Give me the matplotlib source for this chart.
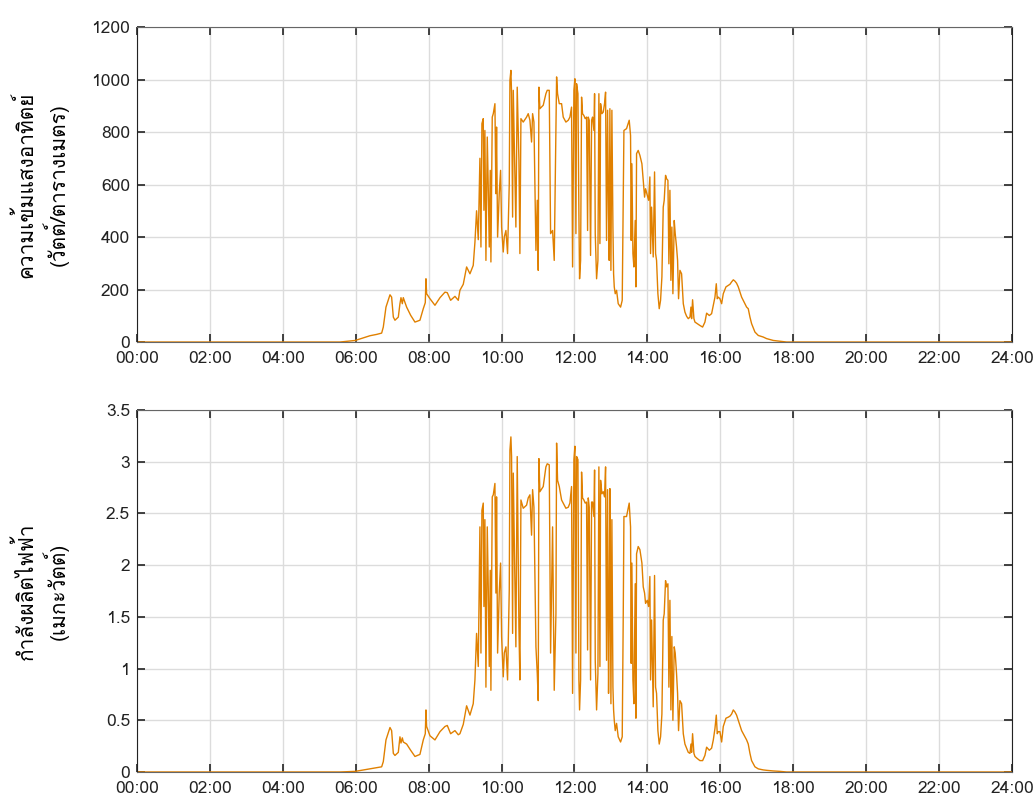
import matplotlib
matplotlib.use("Agg")
import matplotlib.pyplot as plt
from matplotlib import font_manager, ft2font

# time of day in minutes
minutes = [0, 334.1, 359.3, 383.5, 394.4, 402.7, 405.4, 409.8, 416.4, 419.1, 421.9, 424.6, 430.1, 432.8,
           434.5, 436.7, 438.3, 443.8, 450.4, 457.5, 465.7, 471.2, 474.5, 475.6, 476.7, 482.2, 490.4,
           498.7, 506.9, 510.7, 516.2, 523.3, 528.8,
           531.5, 537.0, 542.5, 548.0, 553.4, 556.2, 558.9, 561.7, 564.4, 566.1, 567.7, 569.9, 571.0,
           572.6, 574.3, 576.5, 578.1, 579.8, 581.4, 582.5, 584.7, 586.4, 589.1, 590.7, 591.8, 593.5,
           596.2, 598.4, 600.1, 602.8, 604.5, 607.2, 609.9, 612.7, 613.8, 615.4, 616.5, 618.2, 619.3,
           622.0, 623.6, 625.8, 628.6, 630.2, 631.9, 635.7, 641.2, 643.9, 646.7, 649.4, 651.1, 653.3,
           656.6, 658.8, 660.4, 661.5, 663.1, 668.6, 673.0, 675.2, 678.5, 680.7, 684.0, 686.7, 689.5,
           690.6, 692.2, 695.0, 698.8, 701.5, 705.9, 709.8,
           712.5, 715.2, 716.9, 719.1, 720.7, 722.4, 723.5, 725.7, 727.3, 728.4, 730.1, 731.7, 733.3,
           735.5, 737.7, 739.9, 741.6, 742.7, 744.3, 746.5, 748.2, 749.8, 752.0, 753.1, 754.2, 756.4,
           758.6, 760.2, 761.9, 763.0, 765.2, 767.4, 769.5, 771.2, 772.8, 774.5, 776.1, 777.2, 778.3,
           780.0, 781.6, 783.3, 784.4, 785.5, 787.1, 789.3, 792.0, 795.9, 798.6, 800.3, 801.4, 805.7,
           810.1, 812.3, 813.4, 814.5, 816.2, 817.8, 820.0, 821.1, 822.2, 824.9, 827.7, 831.0, 833.2,
           835.4, 837.0, 839.8, 842.0, 844.1, 845.2, 846.9, 849.6, 851.8, 853.5, 855.1, 857.3, 859.5,
           861.7, 863.9, 866.1, 867.7, 869.9, 871.6, 873.8, 875.4, 877.1, 878.7, 880.3, 882.0, 884.2,
           885.8, 888.0, 889.7, 891.3,
           893.6, 896.3, 899.1, 901.8, 904.6, 907.3, 910.1, 911.7, 912.8, 914.4, 916.6, 918.3, 922.1,
           926.5, 930.9, 934.7, 937.5, 941.9, 945.7, 948.5, 951.2, 953.4, 955.0, 956.7, 959.4, 962.2,
           964.9, 969.3, 973.1, 975.9, 978.6, 981.4, 984.1, 986.8, 989.6, 995.1, 1000.6, 1003.3, 1006.0,
           1008.8, 1011.5, 1017.0, 1022.5, 1030.7, 1036.2, 1047.2, 1058.2, 1069.1, 1440]

# solar irradiance (W/m2)
irradiance = [0, 0, 6, 24, 29, 34, 57, 133, 180, 171, 95, 83, 95, 146,
              169, 146, 169, 133, 102, 76, 83, 127, 150, 241, 184, 165, 140,
              169, 190, 188, 159, 174, 159,
              197, 220, 286, 260, 292, 380, 500, 390, 700, 362, 832, 851, 502,
              806, 311, 781, 591, 362, 654, 305, 857, 870, 908, 565, 819, 400,
              565, 654, 438, 343, 400, 425, 337, 603, 997, 1035, 946, 476, 959,
              629, 438, 971, 692, 337, 851, 838, 857, 870, 845, 762, 870, 838,
              349, 540, 273, 971, 889, 902, 946, 959, 959, 413, 425, 311, 819,
              1010, 946, 908, 908, 857, 838, 845,
              857, 895, 286, 959, 1003, 413, 984, 946, 489, 241, 311, 933, 870,
              863, 851, 857, 425, 857, 845, 330, 845, 857, 806, 946, 413, 241,
              311, 946, 375, 908, 870, 876, 908, 952, 387, 883, 489, 311, 889,
              273, 883, 438, 260, 210, 184, 197, 146, 133, 159, 546, 806, 813,
              845, 787, 387, 679, 337, 286, 463, 210, 718, 730, 711, 679, 616,
              552, 584, 559, 540, 629, 337, 514, 324, 648, 337, 311, 184, 127,
              159, 248, 514, 540, 635, 622, 616, 298, 578, 235, 438, 184, 463,
              413, 362, 311, 165,
              273, 260, 146, 114, 98, 89, 95, 133, 89, 161, 89, 76, 70,
              63, 57, 76, 110, 101, 108, 140, 171, 222, 165, 171, 165, 146,
              184, 210, 216, 220, 229, 237, 232, 224, 210, 171, 146, 133, 127,
              95, 70, 38, 25, 19, 13, 6, 3, 0, 0]

# power output (MW)
power = [0, 0, 0.006, 0.03, 0.04, 0.05, 0.10, 0.31, 0.43, 0.40, 0.18, 0.16, 0.19, 0.34,
         0.28, 0.33, 0.29, 0.27, 0.21, 0.15, 0.17, 0.31, 0.37, 0.60, 0.44, 0.35, 0.31,
         0.39, 0.44, 0.45, 0.37, 0.40, 0.36,
         0.37, 0.46, 0.64, 0.55, 0.66, 0.89, 1.34, 1.02, 2.37, 1.15, 2.53, 2.60, 1.60,
         2.44, 0.82, 2.37, 1.79, 1.02, 1.95, 0.79, 2.66, 2.68, 2.79, 1.73, 2.66, 1.15,
         1.73, 2.02, 1.31, 0.92, 1.15, 1.21, 0.89, 1.76, 3.11, 3.24, 3.05, 1.34, 2.89,
         1.79, 1.21, 3.05, 1.40, 0.89, 2.63, 2.55, 2.58, 2.65, 2.68, 2.29, 2.73, 2.56,
         1.21, 0.95, 0.69, 3.03, 2.71, 2.76, 2.95, 2.98, 2.97, 1.15, 2.37, 0.79, 1.53,
         3.18, 2.82, 2.76, 2.63, 2.60, 2.55, 2.56,
         2.60, 2.76, 0.76, 3.02, 3.15, 1.15, 3.05, 3.02, 0.89, 0.60, 0.89, 2.90, 2.65,
         2.63, 2.60, 2.61, 1.18, 2.65, 2.56, 0.89, 2.61, 2.61, 2.47, 2.92, 1.08, 0.60,
         0.95, 2.95, 1.02, 2.82, 2.69, 2.71, 2.66, 2.95, 1.08, 2.73, 0.76, 1.47, 2.74,
         0.66, 2.44, 0.82, 0.60, 0.50, 0.40, 0.47, 0.34, 0.29, 0.34, 1.53, 2.47, 2.47,
         2.60, 2.37, 1.05, 2.02, 0.89, 0.66, 1.82, 0.52, 2.11, 2.18, 2.15, 2.02, 1.79,
         1.73, 1.63, 1.66, 1.60, 1.89, 0.89, 1.47, 0.63, 1.90, 0.82, 0.76, 0.40, 0.27,
         0.34, 0.56, 1.47, 1.53, 1.85, 1.79, 1.82, 0.82, 1.66, 0.60, 1.31, 0.50, 1.21,
         1.15, 0.95, 0.76, 0.40,
         0.69, 0.66, 0.37, 0.27, 0.23, 0.19, 0.18, 0.27, 0.19, 0.37, 0.18, 0.15, 0.13,
         0.11, 0.11, 0.16, 0.24, 0.21, 0.23, 0.31, 0.42, 0.55, 0.37, 0.39, 0.39, 0.29,
         0.44, 0.52, 0.53, 0.54, 0.56, 0.60, 0.58, 0.55, 0.50, 0.40, 0.34, 0.31, 0.27,
         0.18, 0.11, 0.05, 0.03, 0.02, 0.016, 0.01, 0.006, 0, 0]

hour_ticks = list(range(0, 25, 2))
hour_labels = ["%02d:00" % h for h in hour_ticks]

label_irr = "ความเข้มแสงอาทิตย์\n(วัตต์/ตารางเมตร)"
label_pw = "กำลังผลิตไฟฟ้า\n(เมกะวัตต์)"

# look for any installed font that can draw Thai
thai_font = None
for f in font_manager.fontManager.ttflist:
    try:
        if ord("ก") in ft2font.FT2Font(f.fname).get_charmap():
            thai_font = f.name
            break
    except Exception:
        pass
families = ["Liberation Sans", "DejaVu Sans"]
if thai_font:
    families = [thai_font] + families
plt.rcParams["font.family"] = families

hours = [m / 60.0 for m in minutes]
line_color = "#E08000"

fig = plt.figure(figsize=(10.36, 7.98), dpi=100)
ax1 = fig.add_axes([0.1322, 0.5714, 0.8446, 0.3947])
ax2 = fig.add_axes([0.1322, 0.0326, 0.8446, 0.4536])


def style_axis(ax, ymax, ystep):
    ax.set_xlim(0, 24)
    ax.set_ylim(0, ymax)
    ax.set_xticks(hour_ticks)
    ax.set_xticklabels(hour_labels)
    yt = [i * ystep for i in range(int(round(ymax / ystep)) + 1)]
    ax.set_yticks(yt)
    ax.set_yticklabels(["%g" % v for v in yt])
    ax.grid(True, color="#dcdcdc", linewidth=1.0)
    ax.set_axisbelow(True)
    ax.tick_params(direction="in", top=True, right=True, length=6, width=1.2,
                   labelsize=12.5, colors="#222222", pad=5)
    ax.tick_params(axis="x", pad=6.5)
    for side in ["left", "right"]:
        ax.spines[side].set_color("#222222")
    for side in ["top", "bottom"]:
        ax.spines[side].set_color("#666666")
    ax.yaxis.set_label_coords(-0.078, 0.5)


ax1.plot(hours, irradiance, color=line_color, linewidth=1.0)
style_axis(ax1, 1200, 200)
ax1.set_ylabel(label_irr, fontsize=15, linespacing=1.25)

ax2.plot(hours, power, color=line_color, linewidth=1.0)
style_axis(ax2, 3.5, 0.5)
ax2.set_ylabel(label_pw, fontsize=15, linespacing=1.25)

fig.savefig("out.png", dpi=100)
